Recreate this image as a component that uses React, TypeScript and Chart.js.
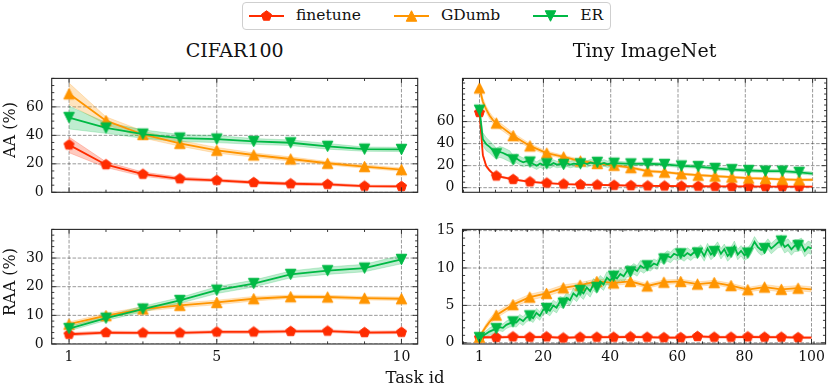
import React, { useEffect, useRef } from 'react';
import { Chart, registerables } from 'chart.js';

Chart.register(...registerables);

// ---------------- data ----------------
const seriesLabels = ['finetune', 'GDumb', 'ER'];
const seriesColors = ['#FF2C00', '#FF9500', '#00B945'];
const seriesMarkers = ['p', '^', 'v'];

// CIFAR100 (10 tasks)
const cifarTasks = [1, 2, 3, 4, 5, 6, 7, 8, 9, 10];
const cifarAAFinetune = [33.3, 19.4, 12.7, 9.5, 8.4, 6.9, 6.0, 5.6, 4.3, 4.1];
const cifarAAGDumb = [69.2, 50.3, 40.6, 34.4, 29.5, 26.2, 23.4, 20.4, 18.1, 15.9];
const cifarAAER = [52.5, 45.2, 40.9, 38.1, 37.4, 35.7, 34.8, 32.3, 30.3, 30.1];
const cifarAAFinetuneStd = [5.5, 2.0, 1.5, 1.2, 1.0, 1.0, 1.0, 1.0, 0.8, 0.8];
const cifarAAGDumbStd = [7.5, 2.7, 2.5, 2.0, 2.0, 1.5, 1.5, 1.2, 1.2, 1.2];
const cifarAAERStd = [8.0, 3.8, 3.0, 2.5, 2.5, 2.0, 2.0, 2.0, 1.5, 1.5];

const cifarRAAFinetune = [3.4, 4.0, 3.9, 3.9, 4.2, 4.2, 4.4, 4.5, 4.0, 4.1];
const cifarRAAGDumb = [6.9, 9.9, 12.2, 13.5, 14.5, 15.8, 16.5, 16.4, 16.0, 15.8];
const cifarRAAER = [5.4, 9.0, 12.2, 15.2, 18.8, 21.1, 24.3, 25.6, 26.5, 29.5];
const cifarRAAFinetuneStd = [0.6, 0.5, 0.5, 0.5, 0.5, 0.5, 0.5, 0.5, 0.5, 0.5];
const cifarRAAGDumbStd = [0.8, 0.8, 0.8, 0.8, 0.8, 0.8, 0.6, 0.6, 0.6, 0.6];
const cifarRAAERStd = [0.8, 0.8, 1.0, 1.0, 1.2, 1.2, 1.2, 1.3, 1.3, 1.5];

// Tiny ImageNet (100 tasks)
const tinyKnotTasks = [1, 2, 3, 4, 5, 6, 11, 16, 21, 26, 31, 36, 41, 46, 51, 56, 61, 66, 71, 76, 81, 86, 91, 96, 100];
const tinyAllTasks = Array.from({ length: 100 }, (_, i) => i + 1);

const tinyAAFinetune = [68.3, 29.5, 19.7, 15.6, 12.8, 10.6, 7.5, 5.3, 4.2, 3.3, 2.8, 2.5, 2.2, 1.9, 1.6, 1.5, 1.4, 1.3, 1.2, 1.1, 1.1, 1.0, 1.0, 0.9, 0.9];
const tinyAAGDumb = [90.5, 78.0, 71.0, 65.5, 61.4, 58.6, 47.2, 37.9, 31.4, 27.9, 24.2, 22.0, 20.3, 18.2, 15.1, 14.1, 12.6, 11.3, 10.5, 9.6, 8.7, 8.3, 7.6, 7.1, 7.2];
const tinyAAERTasks = [
  1, 2, 3, 4, 5, 6, 7, 8, 9, 10, 11, 12, 13, 14, 15, 16, 17, 18, 19, 20,
  21, 22, 23, 24, 25, 26, 27, 28, 29, 30, 31, 32, 33, 34, 35, 36, 37, 38, 39, 40,
  41, 46, 51, 56, 61, 66, 71, 76, 81, 86, 91, 96, 100,
];
const tinyAAER = [
  70.3, 44.0, 39.5, 37.0, 34.0, 30.8, 32.5, 31.5, 30.0, 28.5, 25.3, 26.5, 24.5, 23.0, 24.0, 23.3, 21.5, 20.0, 22.0, 20.5,
  21.7, 20.5, 22.3, 21.0, 21.5, 21.1, 22.0, 21.0, 21.8, 21.3, 21.7, 22.5, 21.5, 22.8, 22.0, 23.0, 21.5, 22.5, 21.3, 22.0,
  22.2, 21.6, 21.7, 21.1, 19.7, 19.2, 17.5, 16.4, 15.6, 15.0, 15.0, 13.9, 12.8,
];
const tinyAAFinetuneStd = [3, 2, 1.5, 1.2, 1, 1, 0.8, 0.7, 0.6, 0.5, 0.5, 0.5, 0.5, 0.5, 0.5, 0.5, 0.5, 0.5, 0.5, 0.5, 0.5, 0.5, 0.5, 0.5, 0.5];
const tinyAAGDumbStd = [4, 3.5, 3, 3, 3, 3, 2.5, 2, 1.8, 1.5, 1.5, 1.3, 1.2, 1.2, 1.2, 1.1, 1, 1, 1, 1, 1, 1, 1, 1, 1];
const tinyAAERStd = [6, 6, 6, 5.5, 5.5, 5, 4, 3.5, 3, 3, 3, 3, 2, 1.5, 1.5, 1.5, 1.5, 1.5, 1.5, 1.5, 1.5, 1.5, 1.5, 1.5, 1.5];

const tinyRAAFinetune = [0.7, 0.72, 0.74, 0.75, 0.74, 0.72, 0.8, 0.75, 0.8, 0.65, 0.75, 0.75, 0.75, 0.8, 0.75, 0.7, 0.7, 0.85, 0.75, 0.75, 0.8, 0.75, 0.75, 0.7, 0.7];
const tinyRAAGDumb = [0.75, 1.5, 2.2, 2.8, 3.3, 3.7, 5.1, 6.1, 6.6, 7.35, 7.7, 8.2, 8.0, 8.2, 7.6, 8.1, 8.2, 7.85, 8.05, 7.65, 7.1, 7.45, 7.15, 7.3, 7.15];
const tinyRAAER = [
  0.7, 0.9, 1.2, 1.5, 1.7, 1.9, 2.1, 2.0, 2.4, 2.6, 2.8, 2.7, 3.2, 2.9, 3.4, 3.6, 3.3, 4.0, 3.6, 4.4,
  4.6, 4.3, 5.0, 4.7, 5.5, 5.3, 6.0, 5.7, 6.6, 6.2, 7.0, 6.6, 7.4, 6.9, 7.8, 7.4, 8.2, 7.8, 8.7, 8.3,
  8.9, 8.6, 9.2, 8.9, 9.6, 9.5, 9.9, 9.6, 10.3, 10.0, 10.3, 10.2, 10.6, 10.4, 11.4, 11.2, 11.6, 11.4, 11.9, 11.7,
  11.9, 11.6, 12.0, 11.7, 12.1, 12.0, 12.4, 11.6, 12.6, 11.8, 12.2, 12.8, 11.9, 12.5, 11.6, 12.1, 12.9, 11.8, 12.3, 11.7,
  12.0, 12.6, 13.5, 12.8, 12.4, 12.6, 13.2, 12.6, 13.0, 13.4, 13.6, 12.8, 13.1, 12.5, 13.0, 13.0, 13.2, 12.3, 12.8, 12.6,
];
const tinyRAAFinetuneStd = [0.15, 0.15, 0.15, 0.15, 0.15, 0.15, 0.15, 0.15, 0.15, 0.15, 0.15, 0.15, 0.15, 0.15, 0.15, 0.15, 0.15, 0.15, 0.15, 0.15, 0.15, 0.15, 0.15, 0.15, 0.15];
const tinyRAAGDumbStd = [0.15, 0.3, 0.35, 0.4, 0.4, 0.4, 0.4, 0.4, 0.4, 0.4, 0.35, 0.35, 0.35, 0.3, 0.3, 0.3, 0.3, 0.3, 0.3, 0.3, 0.3, 0.35, 0.35, 0.35, 0.35];
const tinyRAAERStd = [0.15, 0.3, 0.4, 0.5, 0.5, 0.5, 0.6, 0.6, 0.7, 0.7, 0.8, 0.8, 0.8, 0.7, 0.6, 0.7, 0.7, 0.7, 0.7, 0.7, 0.7, 0.7, 0.8, 0.8, 0.8];

// tick labels
const cifarXTicks = [1, 5, 10];
const tinyXTicks = [1, 20, 40, 60, 80, 100];
const aaYTicks = [0, 20, 40, 60];
const cifarRAAYTicks = [0, 10, 20, 30];
const tinyRAAYTicks = [0, 5, 10, 15];

const titles = ['CIFAR100', 'Tiny ImageNet'];
const yLabels = ['AA (%)', 'RAA (%)'];
const xLabel = 'Task id';

// ---------------- helpers ----------------
const FONT = "'DejaVu Serif', serif";

function rgba(hex: string, a: number) {
  const n = parseInt(hex.slice(1), 16);
  return `rgba(${(n >> 16) & 255},${(n >> 8) & 255},${n & 255},${a})`;
}

function markerPath(g: CanvasRenderingContext2D, kind: string, cx: number, cy: number, h: number) {
  g.beginPath();
  if (kind === '^') {
    g.moveTo(cx, cy - h); g.lineTo(cx - h, cy + h); g.lineTo(cx + h, cy + h);
  } else if (kind === 'v') {
    g.moveTo(cx, cy + h); g.lineTo(cx - h, cy - h); g.lineTo(cx + h, cy - h);
  } else {
    for (let k = 0; k < 5; k++) {
      const a = -Math.PI / 2 + (k * 2 * Math.PI) / 5;
      const px = cx + h * Math.cos(a), py = cy + h * Math.sin(a);
      if (k === 0) g.moveTo(px, py); else g.lineTo(px, py);
    }
  }
  g.closePath();
}

function makeMarker(kind: string, color: string, size: number) {
  const dim = 15;
  const c = document.createElement('canvas');
  c.width = dim; c.height = dim;
  const g = c.getContext('2d')!;
  markerPath(g, kind, dim / 2, dim / 2, size / 2);
  g.fillStyle = color; g.fill();
  g.strokeStyle = color; g.lineWidth = 1; g.stroke();
  return c;
}

function knotValue(knotX: number[], vals: number[], x: number) {
  let v = vals[0];
  for (let i = 0; i < knotX.length; i++) if (knotX[i] <= x) v = vals[i];
  return v;
}

function minorValues(anchor: number, step: number, min: number, max: number, majors: number[]) {
  const out: number[] = [];
  const k0 = Math.ceil((min - anchor) / step);
  const k1 = Math.floor((max - anchor) / step);
  for (let k = k0; k <= k1; k++) {
    const v = anchor + k * step;
    if (!majors.some((m) => Math.abs(m - v) < 1e-6)) out.push(v);
  }
  return out;
}

type SeriesDef = { xs: number[]; ys: number[]; stdX: number[]; std: number[] };

const cifarMark = (x: number) => true;
const tinyMark = (x: number) => (x - 1) % 5 === 0 && x < 100;

const panels = [
  {
    key: 'cifarAA', rect: { l: 51.7, t: 68.3, r: 417.7, b: 192.3 },
    xMin: 0.53, xMax: 10.44, yMin: 0, yMax: 80,
    xTicks: cifarXTicks, xMinor: 1, yTicks: aaYTicks, yMinor: 5, showX: false, mark: cifarMark,
    series: [
      { xs: cifarTasks, ys: cifarAAFinetune, stdX: cifarTasks, std: cifarAAFinetuneStd },
      { xs: cifarTasks, ys: cifarAAGDumb, stdX: cifarTasks, std: cifarAAGDumbStd },
      { xs: cifarTasks, ys: cifarAAER, stdX: cifarTasks, std: cifarAAERStd },
    ] as SeriesDef[],
  },
  {
    key: 'tinyAA', rect: { l: 462.5, t: 68.3, r: 826.7, b: 192.3 },
    xMin: -4.05, xMax: 104.19, yMin: -4.2, yMax: 99.2,
    xTicks: tinyXTicks, xMinor: 4.75, yTicks: aaYTicks, yMinor: 5, showX: false, mark: tinyMark,
    series: [
      { xs: tinyKnotTasks, ys: tinyAAFinetune, stdX: tinyKnotTasks, std: tinyAAFinetuneStd },
      { xs: tinyKnotTasks, ys: tinyAAGDumb, stdX: tinyKnotTasks, std: tinyAAGDumbStd },
      { xs: tinyAAERTasks, ys: tinyAAER, stdX: tinyKnotTasks, std: tinyAAERStd },
    ] as SeriesDef[],
  },
  {
    key: 'cifarRAA', rect: { l: 51.7, t: 219.3, r: 417.7, b: 344 },
    xMin: 0.53, xMax: 10.44, yMin: 0, yMax: 40,
    xTicks: cifarXTicks, xMinor: 1, yTicks: cifarRAAYTicks, yMinor: 2, showX: true, mark: cifarMark,
    series: [
      { xs: cifarTasks, ys: cifarRAAFinetune, stdX: cifarTasks, std: cifarRAAFinetuneStd },
      { xs: cifarTasks, ys: cifarRAAGDumb, stdX: cifarTasks, std: cifarRAAGDumbStd },
      { xs: cifarTasks, ys: cifarRAAER, stdX: cifarTasks, std: cifarRAAERStd },
    ] as SeriesDef[],
  },
  {
    key: 'tinyRAA', rect: { l: 462.5, t: 219.3, r: 826.7, b: 344 },
    xMin: -4.05, xMax: 104.19, yMin: -0.16, yMax: 15.16,
    xTicks: tinyXTicks, xMinor: 4.75, yTicks: tinyRAAYTicks, yMinor: 1, showX: true, mark: tinyMark,
    series: [
      { xs: tinyKnotTasks, ys: tinyRAAFinetune, stdX: tinyKnotTasks, std: tinyRAAFinetuneStd },
      { xs: tinyKnotTasks, ys: tinyRAAGDumb, stdX: tinyKnotTasks, std: tinyRAAGDumbStd },
      { xs: tinyAllTasks, ys: tinyRAAER, stdX: tinyKnotTasks, std: tinyRAAERStd },
    ] as SeriesDef[],
  },
];

function geom(rect: { l: number; t: number; r: number; b: number }) {
  const left = Math.floor(rect.l - 50);
  const top = Math.floor(rect.t - 6);
  const right = Math.min(830, Math.ceil(rect.r + 4));
  const bottom = Math.ceil(rect.b + 30);
  return {
    left, top, width: right - left, height: bottom - top,
    L: rect.l - left, T: rect.t - top, R: right - rect.r, B: bottom - rect.b,
  };
}

function axesPlugin(p: any) {
  const xMinorVals = minorValues(p.xTicks[0], p.xMinor, p.xMin, p.xMax, p.xTicks);
  const yMinorVals = minorValues(p.yTicks[0], p.yMinor, p.yMin, p.yMax, p.yTicks);
  return {
    id: 'mplAxes' + p.key,
    beforeDatasetsDraw(chart: any) {
      const { ctx, chartArea: a, scales } = chart;
      ctx.save();
      ctx.beginPath();
      ctx.rect(a.left, a.top, a.right - a.left, a.bottom - a.top);
      ctx.clip();
      ctx.strokeStyle = 'rgba(0,0,0,0.45)';
      ctx.lineWidth = 0.9;
      ctx.setLineDash([3.6, 1.6]);
      for (const v of p.xTicks) {
        const px = scales.x.getPixelForValue(v);
        ctx.beginPath(); ctx.moveTo(px, a.top); ctx.lineTo(px, a.bottom); ctx.stroke();
      }
      for (const v of p.yTicks) {
        const py = scales.y.getPixelForValue(v);
        ctx.beginPath(); ctx.moveTo(a.left, py); ctx.lineTo(a.right, py); ctx.stroke();
      }
      ctx.restore();
    },
    afterDatasetsDraw(chart: any) {
      const { ctx, chartArea: a, scales } = chart;
      ctx.save();
      ctx.strokeStyle = '#262626';
      ctx.lineWidth = 0.9;
      const tick = (vals: number[], len: number, horiz: boolean) => {
        for (const v of vals) {
          if (horiz) {
            const px = scales.x.getPixelForValue(v);
            ctx.beginPath(); ctx.moveTo(px, a.bottom); ctx.lineTo(px, a.bottom - len); ctx.stroke();
            ctx.beginPath(); ctx.moveTo(px, a.top); ctx.lineTo(px, a.top + len); ctx.stroke();
          } else {
            const py = scales.y.getPixelForValue(v);
            ctx.beginPath(); ctx.moveTo(a.left, py); ctx.lineTo(a.left + len, py); ctx.stroke();
            ctx.beginPath(); ctx.moveTo(a.right, py); ctx.lineTo(a.right - len, py); ctx.stroke();
          }
        }
      };
      tick(p.xTicks, 5, true);
      tick(xMinorVals, 2.6, true);
      tick(p.yTicks, 5, false);
      tick(yMinorVals, 2.6, false);
      ctx.lineWidth = 1.1;
      ctx.strokeRect(a.left, a.top, a.right - a.left, a.bottom - a.top);
      ctx.restore();
    },
  };
}

function buildConfig(p: any, g: any, markers: HTMLCanvasElement[]) {
  const datasets: any[] = [];
  p.series.forEach((s: SeriesDef, i: number) => {
    const c = seriesColors[i];
    const upper = s.xs.map((x, j) => ({ x, y: s.ys[j] + knotValue(s.stdX, s.std, x) }));
    const lower = s.xs.map((x, j) => ({ x, y: s.ys[j] - knotValue(s.stdX, s.std, x) }));
    const upIdx = datasets.length;
    datasets.push({
      data: upper, borderColor: rgba(c, 0.3), borderWidth: 0.7, pointRadius: 0, fill: false, order: 30 - i,
    });
    datasets.push({
      data: lower, borderColor: rgba(c, 0.3), borderWidth: 0.7, pointRadius: 0,
      fill: { target: upIdx }, backgroundColor: rgba(c, 0.25), order: 30 - i,
    });
  });
  p.series.forEach((s: SeriesDef, i: number) => {
    datasets.push({
      label: seriesLabels[i],
      data: s.xs.map((x, j) => ({ x, y: s.ys[j] })),
      borderColor: seriesColors[i],
      backgroundColor: seriesColors[i],
      borderWidth: 1.8,
      pointStyle: markers[i],
      pointRadius: (ctx: any) => (ctx.raw && p.mark(ctx.raw.x) ? 5 : 0),
      pointHoverRadius: 0,
      fill: false,
      tension: 0,
      order: 10 - i,
    });
  });
  const tickFont = { family: FONT, size: 14 };
  return {
    type: 'line',
    data: { datasets },
    options: {
      animation: false,
      responsive: false,
      events: [],
      layout: { autoPadding: false, padding: { left: 0, top: g.T, right: g.R, bottom: 0 } },
      plugins: { legend: { display: false }, tooltip: { enabled: false }, title: { display: false } },
      scales: {
        x: {
          type: 'linear', min: p.xMin, max: p.xMax,
          afterBuildTicks: (sc: any) => { sc.ticks = p.xTicks.map((v: number) => ({ value: v })); },
          afterFit: (sc: any) => { sc.height = g.B; },
          grid: { display: false, drawTicks: false },
          border: { display: false },
          ticks: {
            display: p.showX, autoSkip: false, maxRotation: 0, padding: 5,
            font: tickFont, color: '#111', callback: (v: any) => String(v),
          },
        },
        y: {
          type: 'linear', min: p.yMin, max: p.yMax,
          afterBuildTicks: (sc: any) => { sc.ticks = p.yTicks.map((v: number) => ({ value: v })); },
          afterFit: (sc: any) => { sc.width = g.L; },
          grid: { display: false, drawTicks: false },
          border: { display: false },
          ticks: {
            autoSkip: false, padding: 8, font: tickFont, color: '#111', callback: (v: any) => String(v),
          },
        },
      },
    },
    plugins: [axesPlugin(p)],
  };
}

function Panel({ p }: { p: any }) {
  const ref = useRef<HTMLCanvasElement | null>(null);
  const g = geom(p.rect);
  useEffect(() => {
    if (!ref.current) return;
    const markers = seriesMarkers.map((m, i) => makeMarker(m, seriesColors[i], 10.5));
    const chart = new Chart(ref.current, buildConfig(p, g, markers) as any);
    return () => chart.destroy();
  }, []);
  return (
    <canvas
      ref={ref}
      width={g.width}
      height={g.height}
      style={{ position: 'absolute', left: g.left, top: g.top, width: g.width, height: g.height }}
    />
  );
}

function LegendHandle({ i }: { i: number }) {
  const c = seriesColors[i];
  const h = 5.25;
  const cx = 17.5, cy = 8;
  let pts = '';
  if (seriesMarkers[i] === '^') pts = `${cx},${cy - h} ${cx - h},${cy + h} ${cx + h},${cy + h}`;
  else if (seriesMarkers[i] === 'v') pts = `${cx},${cy + h} ${cx - h},${cy - h} ${cx + h},${cy - h}`;
  else {
    const arr: string[] = [];
    for (let k = 0; k < 5; k++) {
      const a = -Math.PI / 2 + (k * 2 * Math.PI) / 5;
      arr.push(`${cx + h * Math.cos(a)},${cy + h * Math.sin(a)}`);
    }
    pts = arr.join(' ');
  }
  return (
    <svg width={35} height={16} style={{ display: 'block' }}>
      <line x1={0} y1={cy} x2={35} y2={cy} stroke={c} strokeWidth={1.8} />
      <polygon points={pts} fill={c} stroke={c} strokeWidth={1} />
    </svg>
  );
}

export default function App() {
  const textBase: React.CSSProperties = { position: 'absolute', fontFamily: FONT, color: '#111', whiteSpace: 'nowrap', lineHeight: 1 };
  return (
    <div style={{ position: 'absolute', left: 0, top: 0, width: 830, height: 390, overflow: 'hidden', background: '#fff' }}>
      {panels.map((p) => (
        <Panel key={p.key} p={p} />
      ))}
      {/* titles */}
      <div style={{ ...textBase, fontSize: 19, left: 234.7, top: 40.6, transform: 'translateX(-50%)' }}>{titles[0]}</div>
      <div style={{ ...textBase, fontSize: 19, left: 644.6, top: 40.6, transform: 'translateX(-50%)' }}>{titles[1]}</div>
      {/* y labels */}
      <div style={{ ...textBase, fontSize: 16, left: 9.5, top: 130.3, transform: 'translate(-50%,-50%) rotate(-90deg)' }}>{yLabels[0]}</div>
      <div style={{ ...textBase, fontSize: 16, left: 9.5, top: 281.7, transform: 'translate(-50%,-50%) rotate(-90deg)' }}>{yLabels[1]}</div>
      {/* x label */}
      <div style={{ ...textBase, fontSize: 16.5, left: 415, top: 369.7, transform: 'translateX(-50%)' }}>{xLabel}</div>
      {/* legend */}
      <div
        style={{
          position: 'absolute', left: 242, top: 2, height: 26, padding: '0 7px 0 6px',
          border: '1px solid #cfcfcf', borderRadius: 4, background: '#fff',
          display: 'flex', alignItems: 'center', fontFamily: FONT, fontSize: 15.5, color: '#111',
        }}
      >
        {seriesLabels.map((name, i) => (
          <div key={name} style={{ display: 'flex', alignItems: 'center', marginRight: i < 2 ? 33 : 0 }}>
            <LegendHandle i={i} />
            <span style={{ marginLeft: 12, lineHeight: 1 }}>{name}</span>
          </div>
        ))}
      </div>
    </div>
  );
}
